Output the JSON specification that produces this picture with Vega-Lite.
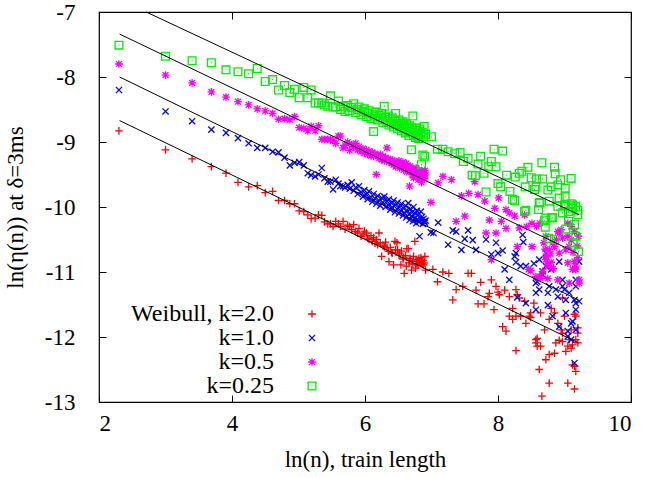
{
"$schema":"https://vega.github.io/schema/vega-lite/v6.json",
"width":532,"height":390,"autosize":"none",
"padding":{"left":99,"top":12,"right":15,"bottom":75},
"background":"white",
"config":{"view":{"stroke":"black","strokeWidth":1.2},"font":"Liberation Serif",
"axis":{"labelFont":"Liberation Serif","labelFontSize":23,"titleFont":"Liberation Serif","titleFontSize":23,"titleFontWeight":"normal","labelColor":"black","titleColor":"black","tickColor":"black","grid":false,"domain":false,"tickSize":-7,"tickWidth":1,"labelExpr":"'' + datum.value"},
"legend":{"labelFont":"Liberation Serif"}},
"layer":[
{"data":{"values":[
{"x":2.30,"a":-8.83,"b":-8.20,"c":-7.80,"d":-7.51},
{"x":3.00,"a":-9.12,"b":-8.53,"c":-7.97,"d":-7.68},
{"x":3.40,"a":-9.26,"b":-8.68,"c":-8.09,"d":-7.75},
{"x":3.69,"a":-9.38,"b":-8.81,"c":-8.23,"d":-7.78},
{"x":3.91,"a":-9.48,"b":-8.86,"c":-8.31,"d":-7.89},
{"x":4.09,"a":-9.62,"b":-8.94,"c":-8.38,"d":-7.92},
{"x":4.25,"a":-9.69,"b":-9.02,"c":-8.43,"d":-7.95},
{"x":4.38,"a":-9.67,"b":-9.09,"c":-8.49,"d":-7.87},
{"x":4.50,"a":-9.78,"b":-9.09,"c":-8.52,"d":-8.07},
{"x":4.61,"a":-9.76,"b":-9.15,"c":-8.56,"d":-8.04},
{"x":4.70,"a":-9.90,"b":-9.16,"c":-8.65,"d":-8.20},
{"x":4.79,"a":-9.90,"b":-9.24,"c":-8.64,"d":-8.13},
{"x":4.87,"a":-9.95,"b":-9.36,"c":-8.66,"d":-8.24},
{"x":4.94,"a":-9.95,"b":-9.32,"c":-8.61,"d":-8.19},
{"x":5.01,"a":-10.06,"b":-9.31,"c":-8.78,"d":-8.32},
{"x":5.08,"a":-10.07,"b":-9.36,"c":-8.79,"d":-8.16},
{"x":5.14,"a":-10.12,"b":-9.48,"c":-8.83,"d":-8.32},
{"x":5.19,"a":-10.18,"b":-9.51,"c":-8.76,"d":-8.20},
{"x":5.25,"a":-10.17,"b":-9.53,"c":-8.83,"d":-8.40},
{"x":5.30,"a":-10.12,"b":-9.50,"c":-8.75,"d":-8.40},
{"x":5.35,"a":-10.13,"b":-9.40,"c":-8.96,"d":-8.40},
{"x":5.39,"a":-10.23,"b":-9.56,"c":-8.96,"d":-8.43},
{"x":5.44,"a":-10.26,"b":-9.61,"c":-8.96,"d":-8.45},
{"x":5.48,"a":-10.26,"b":-9.61,"c":-8.96,"d":-8.29},
{"x":5.52,"a":-10.30,"b":-9.73,"c":-8.98,"d":-8.46},
{"x":5.56,"a":-10.22,"b":-9.58,"c":-9.02,"d":-8.46},
{"x":5.60,"a":-10.26,"b":-9.64,"c":-8.91,"d":-8.37},
{"x":5.63,"a":-10.30,"b":-9.68,"c":-8.91,"d":-8.50},
{"x":5.67,"a":-10.22,"b":-9.68,"c":-9.09,"d":-8.45},
{"x":5.70,"a":-10.34,"b":-9.70,"c":-9.05,"d":-8.53},
{"x":5.74,"a":-10.28,"b":-9.66,"c":-9.00,"d":-8.44},
{"x":5.77,"a":-10.30,"b":-9.72,"c":-9.13,"d":-8.52},
{"x":5.80,"a":-10.35,"b":-9.62,"c":-9.04,"d":-8.47},
{"x":5.83,"a":-10.27,"b":-9.75,"c":-9.08,"d":-8.41},
{"x":5.86,"a":-10.38,"b":-9.70,"c":-9.02,"d":-8.55},
{"x":5.89,"a":-10.40,"b":-9.80,"c":-9.12,"d":-8.50},
{"x":5.91,"a":-10.33,"b":-9.68,"c":-9.07,"d":-8.46},
{"x":5.94,"a":-10.45,"b":-9.77,"c":-9.15,"d":-8.58},
{"x":5.97,"a":-10.43,"b":-9.84,"c":-9.10,"d":-8.53},
{"x":5.99,"a":-10.37,"b":-9.74,"c":-9.17,"d":-8.49},
{"x":6.02,"a":-10.40,"b":-9.81,"c":-9.12,"d":-8.61},
{"x":6.04,"a":-10.48,"b":-9.88,"c":-9.19,"d":-8.55},
{"x":6.06,"a":-10.50,"b":-9.76,"c":-9.14,"d":-8.52},
{"x":6.09,"a":-10.44,"b":-9.85,"c":-9.21,"d":-8.64},
{"x":6.11,"a":-10.53,"b":-9.92,"c":-9.16,"d":-8.57},
{"x":6.13,"a":-10.47,"b":-9.80,"c":-9.22,"d":-8.84},
{"x":6.15,"a":-10.56,"b":-9.87,"c":-9.18,"d":-8.60},
{"x":6.17,"a":-10.50,"b":-9.95,"c":-9.50,"d":-8.54},
{"x":6.19,"a":-10.58,"b":-9.83,"c":-9.20,"d":-8.66},
{"x":6.21,"a":-10.40,"b":-9.90,"c":-9.25,"d":-8.59},
{"x":6.23,"a":-10.55,"b":-9.98,"c":-9.19,"d":-8.63},
{"x":6.25,"a":-10.76,"b":-9.86,"c":-9.27,"d":-8.56},
{"x":6.27,"a":-10.60,"b":-9.93,"c":-9.22,"d":-8.70},
{"x":6.29,"a":-10.61,"b":-9.84,"c":-9.29,"d":-8.45},
{"x":6.31,"a":-10.54,"b":-10.00,"c":-9.24,"d":-8.62},
{"x":6.33,"a":-10.63,"b":-9.91,"c":-9.09,"d":-8.68},
{"x":6.35,"a":-10.68,"b":-9.97,"c":-9.26,"d":-8.60},
{"x":6.36,"a":-10.84,"b":-9.88,"c":-9.31,"d":-8.74},
{"x":6.38,"a":-10.62,"b":-10.04,"c":-9.27,"d":-8.65},
{"x":6.40,"a":-10.70,"b":-9.94,"c":-9.33,"d":-8.71},
{"x":6.41,"a":-10.71,"b":-10.01,"c":-9.28,"d":-8.63},
{"x":6.43,"a":-10.89,"b":-9.90,"c":-9.35,"d":-8.77},
{"x":6.45,"a":-10.53,"b":-10.08,"c":-9.30,"d":-8.68},
{"x":6.46,"a":-10.66,"b":-9.97,"c":-9.38,"d":-8.56},
{"x":6.48,"a":-10.55,"b":-10.03,"c":-9.32,"d":-8.73},
{"x":6.49,"a":-10.66,"b":-9.93,"c":-9.36,"d":-8.80},
{"x":6.51,"a":-10.74,"b":-10.10,"c":-9.29,"d":-8.66},
{"x":6.52,"a":-10.71,"b":-10.00,"c":-9.40,"d":-8.75},
{"x":6.54,"a":-10.89,"b":-10.06,"c":-9.34,"d":-8.71},
{"x":6.55,"a":-10.68,"b":-9.95,"c":-9.38,"d":-8.83},
{"x":6.57,"a":-10.80,"b":-10.13,"c":-9.31,"d":-8.69},
{"x":6.58,"a":-10.78,"b":-10.02,"c":-9.43,"d":-8.78},
{"x":6.59,"a":-11.02,"b":-10.09,"c":-9.36,"d":-8.74},
{"x":6.61,"a":-10.75,"b":-9.98,"c":-9.40,"d":-8.86},
{"x":6.62,"a":-10.91,"b":-10.16,"c":-9.33,"d":-8.72},
{"x":6.63,"a":-10.64,"b":-10.05,"c":-9.46,"d":-8.81},
{"x":6.65,"a":-10.64,"b":-9.94,"c":-9.39,"d":-8.77},
{"x":6.66,"a":-10.86,"b":-10.11,"c":-9.42,"d":-8.90},
{"x":6.67,"a":-10.82,"b":-10.20,"c":-9.68,"d":-8.75},
{"x":6.68,"a":-10.79,"b":-10.03,"c":-9.37,"d":-8.84},
{"x":6.70,"a":-10.97,"b":-10.14,"c":-9.45,"d":-9.12},
{"x":6.71,"a":-10.84,"b":-10.08,"c":-9.50,"d":-8.79},
{"x":6.72,"a":-10.88,"b":-10.22,"c":-9.41,"d":-8.60},
{"x":6.73,"a":-10.76,"b":-10.00,"c":-9.55,"d":-8.88},
{"x":6.75,"a":-10.53,"b":-10.17,"c":-9.44,"d":-8.82},
{"x":6.76,"a":-10.94,"b":-10.10,"c":-9.48,"d":-8.93},
{"x":6.77,"a":-10.81,"b":-10.25,"c":-9.40,"d":-8.78},
{"x":6.78,"a":-10.87,"b":-10.06,"c":-9.52,"d":-8.86},
{"x":6.79,"a":-10.83,"b":-10.19,"c":-9.46,"d":-8.91},
{"x":6.80,"a":-10.90,"b":-10.12,"c":-9.58,"d":-8.83},
{"x":6.81,"a":-10.79,"b":-10.23,"c":-9.43,"d":-8.95},
{"x":6.82,"a":-10.85,"b":-10.45,"c":-9.50,"d":-8.80},
{"x":6.84,"a":-10.78,"b":-10.07,"c":-9.47,"d":-8.89},
{"x":6.85,"a":-10.84,"b":-10.20,"c":-9.62,"d":-9.35},
{"x":6.86,"a":-10.88,"b":-10.15,"c":-9.45,"d":-8.85},
{"x":6.87,"a":-10.82,"b":-10.26,"c":-9.53,"d":-9.20},
{"x":6.88,"a":-10.89,"b":-10.18,"c":-9.49,"d":-8.92},
{"x":6.89,"a":-10.86,"b":-10.22,"c":-9.56,"d":-8.76},
{"x":6.90,"a":-10.76,"b":-10.24,"c":-9.44,"d":-9.22},
{"x":6.91,"a":-10.97,"b":-10.21,"c":-9.51,"d":-8.88}
]},
"transform":[{"fold":["a","b","c","d"],"as":["k","y"]}],
"mark":{"type":"point","filled":false,"strokeWidth":1.3,"size":60,"opacity":1},
"encoding":{
"x":{"field":"x","type":"quantitative","scale":{"domain":[2,10],"nice":false,"zero":false},"axis":{"values":[2,4,6,8,10],"title":"ln(n), train length","labelPadding":17,"titleY":57,"titleBaseline":"middle"}},
"y":{"field":"y","type":"quantitative","scale":{"domain":[-13,-7],"nice":false,"zero":false},"axis":{"values":[-13,-12,-11,-10,-9,-8,-7],"title":"ln(η(n)) at δ=3ms","labelPadding":31,"titleX":-84,"titleY":195,"titleBaseline":"middle","titleAngle":-90,"titleAlign":"center"}},
"color":{"field":"k","type":"nominal","scale":{"domain":["a","b","c","d"],"range":["#ff0000","#0000ff","#ff00ff","#00ee00"]},"legend":{"orient":"none","legendX":201,"legendY":290,"title":null,"labelExpr":"datum.label=='a'?'Weibull, k=2.0':datum.label=='b'?'k=1.0':datum.label=='c'?'k=0.5':'k=0.25'","labelAlign":"right","labelOffset":-50,"labelFont":"Liberation Serif","labelFontSize":24,"labelColor":"black","symbolSize":60,"symbolStrokeWidth":1.3,"rowPadding":0,"padding":0,"labelLimit":400}},
"shape":{"field":"k","type":"nominal","scale":{"domain":["a","b","c","d"],"range":["M-1,0L1,0M0,-1L0,1","M-0.8,-0.8L0.8,0.8M-0.8,0.8L0.8,-0.8","M-1,0L1,0M0,-1L0,1M-0.75,-0.75L0.75,0.75M-0.75,0.75L0.75,-0.75","M-1,-1L1,-1L1,1L-1,1ZM-0.12,0L0.12,0"]},"legend":{"orient":"none","legendX":201,"legendY":290,"title":null,"labelExpr":"datum.label=='a'?'Weibull, k=2.0':datum.label=='b'?'k=1.0':datum.label=='c'?'k=0.5':'k=0.25'","labelAlign":"right","labelOffset":-50,"labelFont":"Liberation Serif","labelFontSize":24,"labelColor":"black","symbolSize":60,"symbolStrokeWidth":1.3,"rowPadding":0,"padding":0,"labelLimit":400}}
}},
{"data":{"values":[
{"k":"a","x":7.02,"y":-10.96},{"k":"a","x":7.09,"y":-11.15},{"k":"a","x":7.17,"y":-11.00},{"k":"a","x":7.26,"y":-11.02},{"k":"a","x":7.32,"y":-11.43},{"k":"a","x":7.37,"y":-11.27},{"k":"a","x":7.47,"y":-11.22},{"k":"a","x":7.55,"y":-11.02},{"k":"a","x":7.60,"y":-11.02},{"k":"a","x":7.67,"y":-11.28},{"k":"a","x":7.70,"y":-11.49},{"k":"a","x":7.74,"y":-11.16},{"k":"a","x":7.79,"y":-11.49},{"k":"a","x":7.85,"y":-11.38},{"k":"a","x":7.87,"y":-11.33},{"k":"a","x":7.90,"y":-11.12},{"k":"a","x":7.94,"y":-11.58},{"k":"a","x":7.97,"y":-11.22},{"k":"a","x":8.00,"y":-11.31},{"k":"a","x":8.02,"y":-11.35},{"k":"a","x":8.07,"y":-11.84},{"k":"a","x":8.10,"y":-11.28},{"k":"a","x":8.12,"y":-11.91},{"k":"a","x":8.17,"y":-11.38},{"k":"a","x":8.17,"y":-11.68},{"k":"a","x":8.22,"y":-11.56},{"k":"a","x":8.22,"y":-11.73},{"k":"a","x":8.27,"y":-11.27},{"k":"a","x":8.27,"y":-11.68},{"k":"a","x":8.27,"y":-12.21},{"k":"a","x":8.29,"y":-11.35},{"k":"a","x":8.32,"y":-11.40},{"k":"a","x":8.34,"y":-11.68},{"k":"a","x":8.40,"y":-11.45},{"k":"a","x":8.42,"y":-11.79},{"k":"a","x":8.47,"y":-11.68},{"k":"a","x":8.49,"y":-11.63},{"k":"a","x":8.49,"y":-11.70},{"k":"a","x":8.54,"y":-11.48},{"k":"a","x":8.57,"y":-12.04},{"k":"a","x":8.57,"y":-12.09},{"k":"a","x":8.59,"y":-12.02},{"k":"a","x":8.59,"y":-12.14},{"k":"a","x":8.62,"y":-12.50},{"k":"a","x":8.64,"y":-11.63},{"k":"a","x":8.64,"y":-12.14},{"k":"a","x":8.66,"y":-12.91},{"k":"a","x":8.70,"y":-11.89},{"k":"a","x":8.72,"y":-12.35},{"k":"a","x":8.77,"y":-11.73},{"k":"a","x":8.77,"y":-12.27},{"k":"a","x":8.77,"y":-12.71},{"k":"a","x":8.80,"y":-11.56},{"k":"a","x":8.85,"y":-11.63},{"k":"a","x":8.85,"y":-12.25},{"k":"a","x":8.87,"y":-12.09},{"k":"a","x":8.90,"y":-11.79},{"k":"a","x":8.92,"y":-12.05},{"k":"a","x":8.95,"y":-11.89},{"k":"a","x":8.97,"y":-11.40},{"k":"a","x":8.97,"y":-11.94},{"k":"a","x":8.97,"y":-12.07},{"k":"a","x":9.00,"y":-11.68},{"k":"a","x":9.02,"y":-12.22},{"k":"a","x":9.05,"y":-12.14},{"k":"a","x":9.05,"y":-12.71},{"k":"a","x":9.07,"y":-12.04},{"k":"a","x":9.10,"y":-11.89},{"k":"a","x":9.10,"y":-12.17},{"k":"a","x":9.12,"y":-12.12},{"k":"a","x":9.12,"y":-12.43},{"k":"a","x":9.15,"y":-11.65},{"k":"a","x":9.15,"y":-12.45},{"k":"a","x":9.15,"y":-12.80},{"k":"a","x":9.17,"y":-11.68},{"k":"a","x":9.17,"y":-12.04},{"k":"a","x":9.17,"y":-12.53},{"k":"a","x":9.20,"y":-11.86},{"k":"a","x":9.20,"y":-12.09},{"k":"a","x":9.20,"y":-11.94},
{"k":"b","x":6.99,"y":-10.39},{"k":"b","x":7.03,"y":-10.40},{"k":"b","x":7.10,"y":-10.24},{"k":"b","x":7.25,"y":-10.58},{"k":"b","x":7.32,"y":-10.36},{"k":"b","x":7.37,"y":-10.38},{"k":"b","x":7.45,"y":-10.66},{"k":"b","x":7.50,"y":-10.49},{"k":"b","x":7.55,"y":-10.36},{"k":"b","x":7.62,"y":-10.51},{"k":"b","x":7.67,"y":-10.66},{"k":"b","x":7.82,"y":-10.50},{"k":"b","x":7.90,"y":-10.73},{"k":"b","x":7.97,"y":-10.55},{"k":"b","x":8.00,"y":-10.71},{"k":"b","x":8.07,"y":-10.67},{"k":"b","x":8.10,"y":-10.96},{"k":"b","x":8.17,"y":-11.12},{"k":"b","x":8.25,"y":-10.76},{"k":"b","x":8.27,"y":-10.85},{"k":"b","x":8.27,"y":-10.71},{"k":"b","x":8.29,"y":-11.39},{"k":"b","x":8.34,"y":-10.91},{"k":"b","x":8.37,"y":-10.43},{"k":"b","x":8.38,"y":-10.54},{"k":"b","x":8.42,"y":-10.91},{"k":"b","x":8.42,"y":-11.48},{"k":"b","x":8.54,"y":-10.87},{"k":"b","x":8.57,"y":-11.17},{"k":"b","x":8.57,"y":-11.32},{"k":"b","x":8.57,"y":-11.58},{"k":"b","x":8.59,"y":-11.15},{"k":"b","x":8.62,"y":-10.81},{"k":"b","x":8.62,"y":-11.27},{"k":"b","x":8.67,"y":-11.04},{"k":"b","x":8.67,"y":-10.99},{"k":"b","x":8.72,"y":-10.71},{"k":"b","x":8.72,"y":-10.91},{"k":"b","x":8.75,"y":-11.32},{"k":"b","x":8.75,"y":-11.51},{"k":"b","x":8.77,"y":-11.22},{"k":"b","x":8.80,"y":-10.96},{"k":"b","x":8.82,"y":-11.68},{"k":"b","x":8.87,"y":-11.27},{"k":"b","x":8.90,"y":-11.38},{"k":"b","x":8.92,"y":-10.84},{"k":"b","x":8.92,"y":-11.84},{"k":"b","x":8.97,"y":-11.12},{"k":"b","x":8.97,"y":-11.22},{"k":"b","x":9.00,"y":-11.27},{"k":"b","x":9.02,"y":-11.43},{"k":"b","x":9.02,"y":-11.63},{"k":"b","x":9.05,"y":-11.91},{"k":"b","x":9.05,"y":-11.99},{"k":"b","x":9.07,"y":-11.32},{"k":"b","x":9.10,"y":-11.79},{"k":"b","x":9.10,"y":-12.04},{"k":"b","x":9.12,"y":-11.76},{"k":"b","x":9.15,"y":-11.43},{"k":"b","x":9.15,"y":-12.40},{"k":"b","x":9.17,"y":-11.22},{"k":"b","x":9.17,"y":-11.58},{"k":"b","x":9.17,"y":-11.12},{"k":"b","x":9.17,"y":-11.48},{"k":"b","x":9.17,"y":-11.89},{"k":"b","x":9.22,"y":-11.45},{"k":"b","x":9.22,"y":-10.84},
{"k":"c","x":6.99,"y":-9.93},{"k":"c","x":7.10,"y":-9.63},{"k":"c","x":7.17,"y":-9.53},{"k":"c","x":7.30,"y":-9.58},{"k":"c","x":7.37,"y":-10.22},{"k":"c","x":7.45,"y":-9.83},{"k":"c","x":7.50,"y":-10.14},{"k":"c","x":7.56,"y":-9.79},{"k":"c","x":7.65,"y":-9.61},{"k":"c","x":7.70,"y":-9.81},{"k":"c","x":7.80,"y":-9.91},{"k":"c","x":7.82,"y":-10.40},{"k":"c","x":7.87,"y":-10.20},{"k":"c","x":7.90,"y":-10.81},{"k":"c","x":7.95,"y":-10.02},{"k":"c","x":7.97,"y":-10.40},{"k":"c","x":8.01,"y":-9.86},{"k":"c","x":8.05,"y":-10.22},{"k":"c","x":8.12,"y":-10.04},{"k":"c","x":8.12,"y":-10.33},{"k":"c","x":8.17,"y":-10.09},{"k":"c","x":8.25,"y":-10.14},{"k":"c","x":8.29,"y":-10.61},{"k":"c","x":8.32,"y":-10.32},{"k":"c","x":8.40,"y":-10.12},{"k":"c","x":8.43,"y":-10.30},{"k":"c","x":8.46,"y":-10.96},{"k":"c","x":8.49,"y":-10.98},{"k":"c","x":8.51,"y":-10.61},{"k":"c","x":8.51,"y":-10.25},{"k":"c","x":8.57,"y":-11.07},{"k":"c","x":8.58,"y":-10.30},{"k":"c","x":8.63,"y":-10.25},{"k":"c","x":8.63,"y":-11.07},{"k":"c","x":8.64,"y":-11.10},{"k":"c","x":8.67,"y":-10.99},{"k":"c","x":8.69,"y":-10.55},{"k":"c","x":8.71,"y":-10.65},{"k":"c","x":8.72,"y":-10.76},{"k":"c","x":8.72,"y":-10.45},{"k":"c","x":8.72,"y":-10.81},{"k":"c","x":8.74,"y":-10.88},{"k":"c","x":8.75,"y":-11.10},{"k":"c","x":8.77,"y":-10.91},{"k":"c","x":8.77,"y":-10.66},{"k":"c","x":8.79,"y":-10.72},{"k":"c","x":8.80,"y":-10.85},{"k":"c","x":8.82,"y":-10.55},{"k":"c","x":8.83,"y":-10.95},{"k":"c","x":8.85,"y":-10.61},{"k":"c","x":8.88,"y":-10.50},{"k":"c","x":8.90,"y":-10.38},{"k":"c","x":8.90,"y":-11.12},{"k":"c","x":8.92,"y":-10.71},{"k":"c","x":8.92,"y":-10.40},{"k":"c","x":8.95,"y":-10.35},{"k":"c","x":8.97,"y":-10.48},{"k":"c","x":9.02,"y":-10.66},{"k":"c","x":9.05,"y":-10.45},{"k":"c","x":9.05,"y":-10.86},{"k":"c","x":9.05,"y":-10.25},{"k":"c","x":9.07,"y":-10.61},{"k":"c","x":9.07,"y":-11.17},{"k":"c","x":9.10,"y":-10.30},{"k":"c","x":9.10,"y":-10.51},{"k":"c","x":9.12,"y":-10.96},{"k":"c","x":9.13,"y":-10.70},{"k":"c","x":9.15,"y":-10.84},{"k":"c","x":9.15,"y":-10.38},{"k":"c","x":9.17,"y":-10.96},{"k":"c","x":9.17,"y":-10.91},{"k":"c","x":9.19,"y":-10.60},{"k":"c","x":9.20,"y":-10.78},{"k":"c","x":9.21,"y":-10.45},{"k":"c","x":9.22,"y":-11.17},{"k":"c","x":9.22,"y":-11.12},
{"k":"d","x":7.00,"y":-8.92},{"k":"d","x":7.09,"y":-9.11},{"k":"d","x":7.17,"y":-9.11},{"k":"d","x":7.25,"y":-9.15},{"k":"d","x":7.35,"y":-9.18},{"k":"d","x":7.43,"y":-9.16},{"k":"d","x":7.48,"y":-9.30},{"k":"d","x":7.55,"y":-9.25},{"k":"d","x":7.61,"y":-9.51},{"k":"d","x":7.66,"y":-9.52},{"k":"d","x":7.70,"y":-9.34},{"k":"d","x":7.74,"y":-9.22},{"k":"d","x":7.79,"y":-9.48},{"k":"d","x":7.82,"y":-9.77},{"k":"d","x":7.86,"y":-9.38},{"k":"d","x":7.90,"y":-9.30},{"k":"d","x":7.94,"y":-9.11},{"k":"d","x":7.97,"y":-9.38},{"k":"d","x":8.00,"y":-9.64},{"k":"d","x":8.04,"y":-9.69},{"k":"d","x":8.07,"y":-9.14},{"k":"d","x":8.13,"y":-9.51},{"k":"d","x":8.18,"y":-9.76},{"k":"d","x":8.22,"y":-9.88},{"k":"d","x":8.25,"y":-9.90},{"k":"d","x":8.26,"y":-9.54},{"k":"d","x":8.32,"y":-9.48},{"k":"d","x":8.36,"y":-9.45},{"k":"d","x":8.40,"y":-10.07},{"k":"d","x":8.41,"y":-9.69},{"k":"d","x":8.42,"y":-10.05},{"k":"d","x":8.45,"y":-9.39},{"k":"d","x":8.50,"y":-9.55},{"k":"d","x":8.55,"y":-9.73},{"k":"d","x":8.57,"y":-9.69},{"k":"d","x":8.58,"y":-9.57},{"k":"d","x":8.61,"y":-10.04},{"k":"d","x":8.62,"y":-9.94},{"k":"d","x":8.63,"y":-9.93},{"k":"d","x":8.66,"y":-9.32},{"k":"d","x":8.67,"y":-9.57},{"k":"d","x":8.70,"y":-10.21},{"k":"d","x":8.71,"y":-10.31},{"k":"d","x":8.72,"y":-10.17},{"k":"d","x":8.75,"y":-9.74},{"k":"d","x":8.76,"y":-10.48},{"k":"d","x":8.77,"y":-9.91},{"k":"d","x":8.80,"y":-9.69},{"k":"d","x":8.80,"y":-10.17},{"k":"d","x":8.82,"y":-10.16},{"k":"d","x":8.85,"y":-9.39},{"k":"d","x":8.85,"y":-10.50},{"k":"d","x":8.86,"y":-9.49},{"k":"d","x":8.90,"y":-9.66},{"k":"d","x":8.90,"y":-9.99},{"k":"d","x":8.92,"y":-9.86},{"k":"d","x":8.94,"y":-9.58},{"k":"d","x":8.97,"y":-10.09},{"k":"d","x":9.00,"y":-9.97},{"k":"d","x":9.01,"y":-9.71},{"k":"d","x":9.01,"y":-9.84},{"k":"d","x":9.02,"y":-9.99},{"k":"d","x":9.02,"y":-10.34},{"k":"d","x":9.06,"y":-10.07},{"k":"d","x":9.06,"y":-10.22},{"k":"d","x":9.10,"y":-9.56},{"k":"d","x":9.10,"y":-9.95},{"k":"d","x":9.12,"y":-9.97},{"k":"d","x":9.12,"y":-10.02},{"k":"d","x":9.13,"y":-10.55},{"k":"d","x":9.15,"y":-10.27},{"k":"d","x":9.17,"y":-9.99},{"k":"d","x":9.17,"y":-10.45},{"k":"d","x":9.20,"y":-10.05},{"k":"d","x":9.20,"y":-10.12},{"k":"d","x":9.21,"y":-10.69}
]},
"mark":{"type":"point","filled":false,"strokeWidth":1.3,"size":60,"opacity":1},
"encoding":{
"x":{"field":"x","type":"quantitative","axis":null},
"y":{"field":"y","type":"quantitative","axis":null},
"color":{"field":"k","type":"nominal","scale":{"domain":["a","b","c","d"],"range":["#ff0000","#0000ff","#ff00ff","#00ee00"]},"legend":{"orient":"none","legendX":201,"legendY":290,"title":null,"labelExpr":"datum.label=='a'?'Weibull, k=2.0':datum.label=='b'?'k=1.0':datum.label=='c'?'k=0.5':'k=0.25'","labelAlign":"right","labelOffset":-50,"labelFont":"Liberation Serif","labelFontSize":24,"labelColor":"black","symbolSize":60,"symbolStrokeWidth":1.3,"rowPadding":0,"padding":0,"labelLimit":400}},
"shape":{"field":"k","type":"nominal","scale":{"domain":["a","b","c","d"],"range":["M-1,0L1,0M0,-1L0,1","M-0.8,-0.8L0.8,0.8M-0.8,0.8L0.8,-0.8","M-1,0L1,0M0,-1L0,1M-0.75,-0.75L0.75,0.75M-0.75,0.75L0.75,-0.75","M-1,-1L1,-1L1,1L-1,1ZM-0.12,0L0.12,0"]},"legend":{"orient":"none","legendX":201,"legendY":290,"title":null,"labelExpr":"datum.label=='a'?'Weibull, k=2.0':datum.label=='b'?'k=1.0':datum.label=='c'?'k=0.5':'k=0.25'","labelAlign":"right","labelOffset":-50,"labelFont":"Liberation Serif","labelFontSize":24,"labelColor":"black","symbolSize":60,"symbolStrokeWidth":1.3,"rowPadding":0,"padding":0,"labelLimit":400}}
}},
{"data":{"values":[
{"g":1,"x":2.71,"y":-7.0},{"g":1,"x":9.22,"y":-10.12},
{"g":2,"x":2.31,"y":-7.34},{"g":2,"x":9.21,"y":-10.72},
{"g":3,"x":2.31,"y":-8.0},{"g":3,"x":9.21,"y":-11.43},
{"g":4,"x":2.31,"y":-8.67},{"g":4,"x":9.21,"y":-12.09}
]},
"mark":{"type":"line","color":"black","strokeWidth":1},
"encoding":{
"x":{"field":"x","type":"quantitative","axis":{"orient":"top","labels":false,"values":[2,4,6,8,10],"title":null}},
"y":{"field":"y","type":"quantitative","axis":{"orient":"right","labels":false,"values":[-13,-12,-11,-10,-9,-8,-7],"title":null}},
"detail":{"field":"g","type":"nominal"}
}}
],
"resolve":{"axis":{"x":"independent","y":"independent"}}
}
